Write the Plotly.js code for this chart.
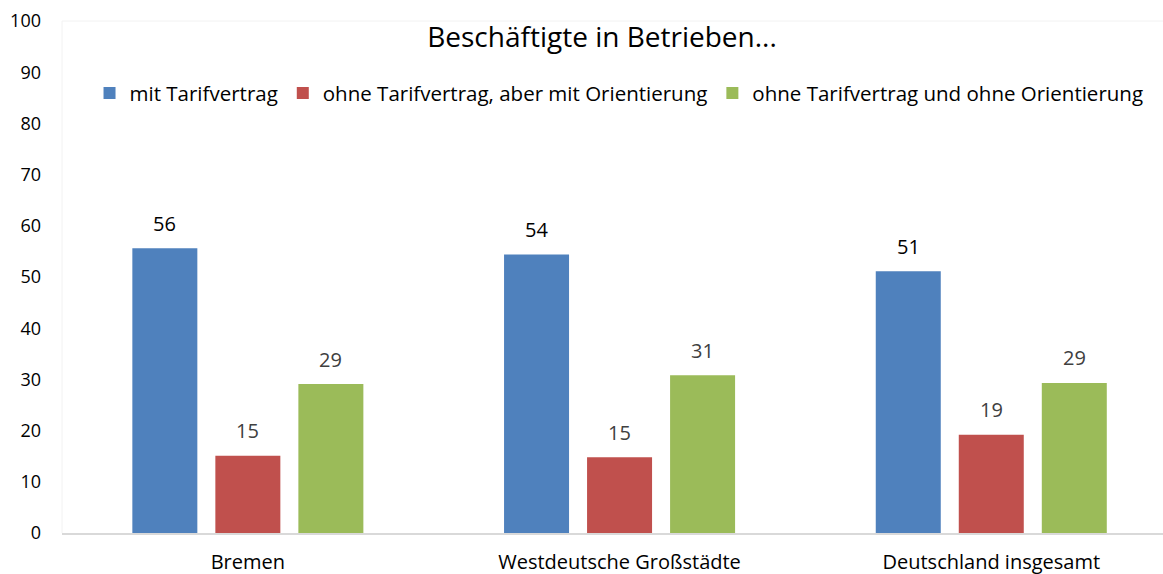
<!DOCTYPE html>
<html>
<head>
<meta charset="utf-8">
<script src="https://cdn.plot.ly/plotly-3.0.1.min.js"></script>
<style>html,body{margin:0;padding:0;background:#fff;overflow:hidden}#chart{width:1163px;height:574px}</style>
</head>
<body>
<div id="chart"></div>
<script>
const categories = ["Bremen", "Westdeutsche Großstädte", "Deutschland insgesamt"];
const seriesNames = ["mit Tarifvertrag", "ohne Tarifvertrag, aber mit Orientierung", "ohne Tarifvertrag und ohne Orientierung"];
const mitTarif = [55.6, 54.4, 51.1];
const ohneMitOrient = [15.1, 14.8, 19.2];
const ohneOhneOrient = [29.1, 30.8, 29.3];
const yTicks = [0, 10, 20, 30, 40, 50, 60, 70, 80, 90, 100];

const colors = ["#4F81BD", "#C0504D", "#9BBB59"];
const labelColors = ["#000000", "#404040", "#404040"];
const FONT = "'Open Sans', Lato, sans-serif";
const series = [mitTarif, ohneMitOrient, ohneOhneOrient];

const traces = series.map((vals, i) => ({
  type: "bar",
  name: seriesNames[i],
  x: categories,
  y: vals,
  marker: {color: colors[i]},
  hoverinfo: "y+name"
}));

// value labels above bars (grouped offsets in category units)
const slot = 0.2234;
const annotations = [];
series.forEach((vals, i) => {
  vals.forEach((v, j) => {
    annotations.push({
      x: j + (i - 1) * slot, y: v, xref: "x", yref: "y",
      text: String(Math.round(v)), showarrow: false,
      yanchor: "middle", yshift: 25,
      font: {family: FONT, size: 20, color: labelColors[i]}
    });
  });
});

const layout = {
  width: 1163, height: 574,
  margin: {l: 62, r: 0, t: 21, b: 41, pad: 0, autoexpand: false},
  paper_bgcolor: "#ffffff", plot_bgcolor: "#ffffff",
  font: {family: FONT, color: "#000000"},
  barmode: "group", bargap: 0.33, bargroupgap: 0.217,
  title: {
    text: "Beschäftigte in Betrieben...",
    font: {family: FONT, size: 28, color: "#000000"},
    x: 602 / 1163, xanchor: "center", xref: "container",
    y: 1 - 37 / 574, yanchor: "middle", yref: "container"
  },
  showlegend: true,
  legend: {
    orientation: "h", xref: "paper", yref: "paper",
    x: 0.025, xanchor: "left", y: (533.3 - 93) / 512.6, yanchor: "middle",
    font: {family: FONT, size: 20.5, color: "#000000"},
    itemwidth: 30, tracegroupgap: 0, bgcolor: "rgba(0,0,0,0)"
  },
  xaxis: {
    type: "category", range: [-0.5, 2.462], fixedrange: true,
    showgrid: false, zeroline: false, showline: true, linecolor: "#d9d9d9", linewidth: 2,
    ticks: "", tickfont: {family: FONT, size: 20, color: "#000000"},
    ticklabelstandoff: 10
  },
  yaxis: {
    range: [0, 100], tickvals: yTicks, fixedrange: true,
    showgrid: false, zeroline: false, showline: false,
    ticks: "", tickfont: {family: FONT, size: 18, color: "#000000"},
    ticklabelstandoff: 20
  },
  shapes: [
    {type: "line", xref: "paper", yref: "paper", x0: 0, x1: 1, y0: 1, y1: 1, line: {color: "#f2f2f2", width: 1}},
    {type: "line", xref: "paper", yref: "paper", x0: 0, x1: 0, y0: 0, y1: 1, line: {color: "#f2f2f2", width: 1}}
  ],
  annotations: annotations
};

Plotly.newPlot("chart", traces, layout, {displayModeBar: false, staticPlot: true});
</script>
</body>
</html>
